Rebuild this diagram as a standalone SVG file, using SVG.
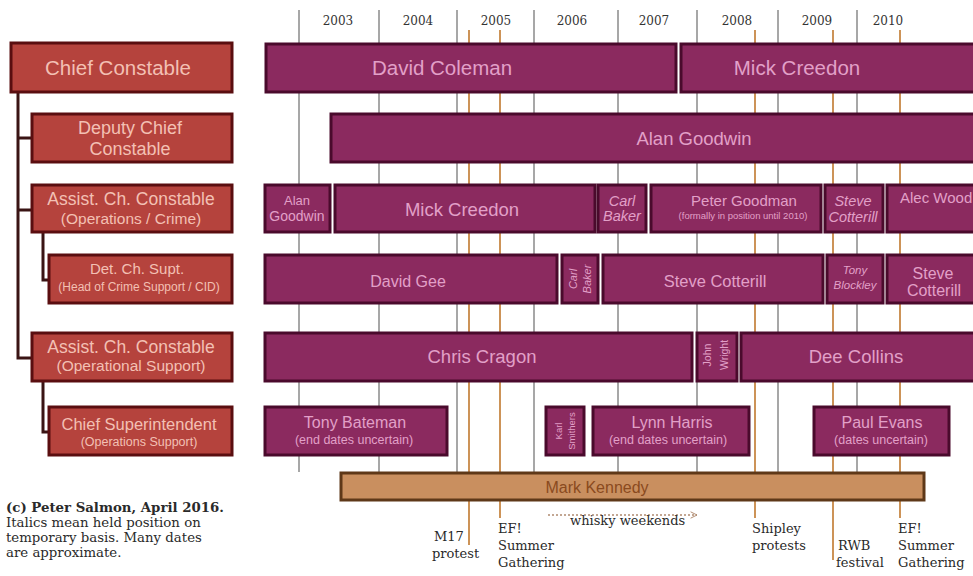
<svg xmlns="http://www.w3.org/2000/svg" width="973" height="576" viewBox="0 0 973 576">
<defs>
<style>
.yr{font-family:"DejaVu Serif","Liberation Serif",serif;font-size:12px;fill:#333;text-anchor:middle}
.grid{stroke:#8a8a8a;stroke-width:1.5}
.ev{stroke:#c0782e;stroke-width:1.6}
.tree{stroke:#3a1414;stroke-width:3;fill:none}
.role rect{fill:#b5433d;stroke:#5a0e10;stroke-width:3}
.role text{font-family:"Liberation Sans","DejaVu Sans",sans-serif;fill:#f3c0b4;text-anchor:middle}
.bar rect{fill:#8b2a5f;stroke:#4a0a2c;stroke-width:3}
.bar text{font-family:"Liberation Sans","DejaVu Sans",sans-serif;fill:#e2a0c8;text-anchor:middle}
.it{font-style:italic}
.mk rect{fill:#c98f5f;stroke:#5e3818;stroke-width:3}
.mk text{font-family:"Liberation Sans","DejaVu Sans",sans-serif;fill:#8a4a1e;text-anchor:middle;font-size:16px}
.note{font-family:"DejaVu Serif","Liberation Serif",serif;font-size:13.3px;fill:#2a2a2a}
.lab{font-family:"DejaVu Serif","Liberation Serif",serif;font-size:13px;fill:#2a2a2a}
</style>
<marker id="arr" viewBox="0 0 10 10" refX="9" refY="5" markerWidth="8" markerHeight="8" orient="auto" markerUnits="userSpaceOnUse">
<path d="M1,1 L9,5 L1,9" fill="none" stroke="#b08a70" stroke-width="1.2"/>
</marker>
</defs>
<rect width="973" height="576" fill="#ffffff"/>

<g id="years">
<text class="yr" x="338" y="25">2003</text>
<text class="yr" x="418" y="25">2004</text>
<text class="yr" x="496" y="25">2005</text>
<text class="yr" x="572" y="25">2006</text>
<text class="yr" x="654" y="25">2007</text>
<text class="yr" x="737" y="25">2008</text>
<text class="yr" x="817" y="25">2009</text>
<text class="yr" x="888" y="25">2010</text>
</g>

<g id="connectors">
<line class="grid" x1="299" y1="10" x2="299" y2="472"/>
<line class="grid" x1="379" y1="10" x2="379" y2="472"/>
<line class="grid" x1="457" y1="10" x2="457" y2="472"/>
<line class="grid" x1="534" y1="10" x2="534" y2="472"/>
<line class="grid" x1="618" y1="10" x2="618" y2="472"/>
<line class="grid" x1="697" y1="10" x2="697" y2="472"/>
<line class="grid" x1="778" y1="10" x2="778" y2="472"/>
<line class="grid" x1="857" y1="10" x2="857" y2="472"/>
<line class="ev" x1="469" y1="30" x2="469" y2="545"/>
<line class="ev" x1="500" y1="30" x2="500" y2="518"/>
<line class="ev" x1="755" y1="30" x2="755" y2="518"/>
<line class="ev" x1="833" y1="30" x2="833" y2="560"/>
<line class="ev" x1="900" y1="30" x2="900" y2="518"/>
<path class="tree" d="M18,93 V358 H32 M18,138 H32 M18,210 H32 M43,233 V280 H49 M43,381 V432 H49"/>
<line x1="548" y1="515" x2="697" y2="515" stroke="#b08a70" stroke-width="1.4" stroke-dasharray="2,2" marker-end="url(#arr)"/>
</g>

<g id="chief-constable" class="role"><rect x="11" y="43" width="221" height="49"/><text x="118" y="75" font-size="20.5">Chief Constable</text></g>
<g id="deputy-chief" class="role"><rect x="32" y="114" width="200" height="48"/><text x="130" y="134" font-size="18">Deputy Chief</text><text x="130" y="155" font-size="18">Constable</text></g>
<g id="acc-crime" class="role"><rect x="32" y="185" width="200" height="47"/><text x="131" y="205" font-size="17.5">Assist. Ch. Constable</text><text x="131" y="224" font-size="15.5">(Operations / Crime)</text></g>
<g id="det-ch-supt" class="role"><rect x="49" y="255" width="183" height="48"/><text x="137" y="274" font-size="15">Det. Ch. Supt.</text><text x="139" y="291" font-size="12">(Head of Crime Support / CID)</text></g>
<g id="acc-ops" class="role"><rect x="32" y="333" width="200" height="48"/><text x="131" y="353" font-size="17.5">Assist. Ch. Constable</text><text x="131" y="371" font-size="15.5">(Operational Support)</text></g>
<g id="chief-supt" class="role"><rect x="49" y="407" width="183" height="48"/><text x="139" y="430" font-size="16.5">Chief Superintendent</text><text x="139" y="446" font-size="12.5">(Operations Support)</text></g>

<g id="david-coleman" class="bar"><rect x="266" y="44" width="410" height="48"/><text x="442" y="75" font-size="20.5">David Coleman</text></g>
<g id="mick-creedon-cc" class="bar"><rect x="681" y="44" width="300" height="48"/><text x="797" y="75" font-size="20.5">Mick Creedon</text></g>
<g id="alan-goodwin-dcc" class="bar"><rect x="331" y="114" width="650" height="48"/><text x="694" y="145" font-size="18.5">Alan Goodwin</text></g>

<g id="alan-goodwin-acc" class="bar"><rect x="265" y="185" width="65" height="47"/><text x="297" y="205" font-size="13">Alan</text><text x="297" y="221" font-size="14">Goodwin</text></g>
<g id="mick-creedon-acc" class="bar"><rect x="335" y="185" width="260" height="47"/><text x="462" y="216" font-size="18.5">Mick Creedon</text></g>
<g id="carl-baker-acc" class="bar"><rect x="598" y="185" width="48" height="47"/><text class="it" x="622" y="206" font-size="14.5">Carl</text><text class="it" x="622" y="221" font-size="14.5">Baker</text></g>
<g id="peter-goodman" class="bar"><rect x="651" y="185" width="170" height="47"/><text x="744" y="206" font-size="15">Peter Goodman</text><text x="743" y="219" font-size="9.5">(formally in position until 2010)</text></g>
<g id="steve-cotterill-acc" class="bar"><rect x="825" y="185" width="58" height="47"/><text class="it" x="853" y="206" font-size="14.5">Steve</text><text class="it" x="853" y="222" font-size="14.5">Cotterill</text></g>
<g id="alec-wood" class="bar"><rect x="887" y="185" width="94" height="47"/><text x="900" y="203" font-size="15" style="text-anchor:start">Alec Wood</text></g>

<g id="david-gee" class="bar"><rect x="265" y="255" width="292" height="48"/><text x="408" y="287" font-size="16">David Gee</text></g>
<g id="carl-baker-dcs" class="bar"><rect x="562" y="255" width="36" height="48"/><text class="it" transform="translate(577,279) rotate(-90)" font-size="11">Carl</text><text class="it" transform="translate(591,279) rotate(-90)" font-size="11">Baker</text></g>
<g id="steve-cotterill-dcs" class="bar"><rect x="603" y="255" width="220" height="48"/><text x="715" y="287" font-size="16.5">Steve Cotterill</text></g>
<g id="tony-blockley" class="bar"><rect x="827" y="255" width="56" height="48"/><text class="it" x="855" y="274" font-size="11.5">Tony</text><text class="it" x="855" y="289" font-size="11.5">Blockley</text></g>
<g id="steve-cotterill-dcs2" class="bar"><rect x="887" y="255" width="94" height="48"/><text x="933" y="279" font-size="16">Steve</text><text x="934" y="296" font-size="16">Cotterill</text></g>

<g id="chris-cragon" class="bar"><rect x="265" y="333" width="427" height="48"/><text x="482" y="363" font-size="18.5">Chris Cragon</text></g>
<g id="john-wright" class="bar"><rect x="697" y="333" width="40" height="48"/><text transform="translate(711,355) rotate(-90)" font-size="10.5">John</text><text transform="translate(728,355) rotate(-90)" font-size="10.5">Wright</text></g>
<g id="dee-collins" class="bar"><rect x="741" y="333" width="240" height="48"/><text x="856" y="363" font-size="18.5">Dee Collins</text></g>

<g id="tony-bateman" class="bar"><rect x="265" y="407" width="182" height="48"/><text x="355" y="428" font-size="16">Tony Bateman</text><text x="354" y="444" font-size="12.5">(end dates uncertain)</text></g>
<g id="karl" class="bar"><rect x="546" y="407" width="38" height="48"/><text transform="translate(562,431) rotate(-90)" font-size="9.5">Karl</text><text transform="translate(575,431) rotate(-90)" font-size="9.5">Smithers</text></g>
<g id="lynn-harris" class="bar"><rect x="593" y="407" width="156" height="48"/><text x="672" y="428" font-size="16">Lynn Harris</text><text x="668" y="444" font-size="12.5">(end dates uncertain)</text></g>
<g id="paul-evans" class="bar"><rect x="814" y="407" width="135" height="48"/><text x="882" y="428" font-size="16">Paul Evans</text><text x="881" y="444" font-size="12.5">(dates uncertain)</text></g>

<g id="mark-kennedy" class="mk"><rect x="341" y="473" width="583" height="27"/><text x="597" y="493">Mark Kennedy</text></g>

<g id="credit">
<text class="note" x="6" y="512" font-weight="bold">(c) Peter Salmon, April 2016.</text>
<text class="note" x="6" y="527">Italics mean held position on</text>
<text class="note" x="6" y="542">temporary basis. Many dates</text>
<text class="note" x="6" y="557">are approximate.</text>
</g>

<g id="events">
<text class="lab" x="434" y="541">M17</text>
<text class="lab" x="432" y="558">protest</text>
<text class="lab" x="498" y="533">EF!</text>
<text class="lab" x="498" y="550">Summer</text>
<text class="lab" x="498" y="567">Gathering</text>
<text class="lab" x="570" y="525" font-size="12">whisky weekends</text>
<text class="lab" x="752" y="533">Shipley</text>
<text class="lab" x="752" y="550">protests</text>
<text class="lab" x="838" y="550">RWB</text>
<text class="lab" x="836" y="567">festival</text>
<text class="lab" x="898" y="533">EF!</text>
<text class="lab" x="898" y="550">Summer</text>
<text class="lab" x="898" y="567">Gathering</text>
</g>
</svg>
